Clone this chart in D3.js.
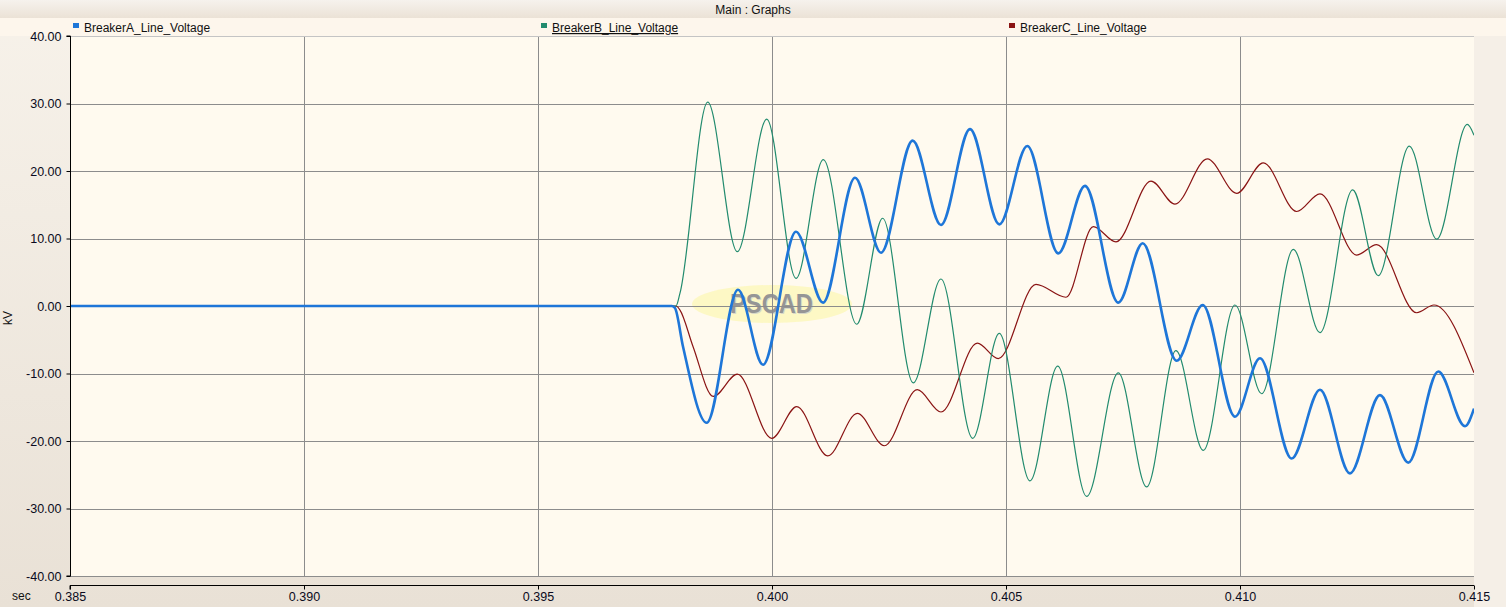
<!DOCTYPE html>
<html>
<head>
<meta charset="utf-8">
<script src="https://cdn.jsdelivr.net/npm/d3@7"></script>
<style>
  html, body { margin: 0; padding: 0; background: #ece5db; }
  svg { display: block; }
  text { font-family: "Liberation Sans", Arial, sans-serif; }
</style>
</head>
<body>
<svg id="chart" width="1506" height="607"></svg>
<script>
// ---------------- data ----------------
const title = "Main : Graphs";
const seriesNames = ["BreakerA_Line_Voltage", "BreakerB_Line_Voltage", "BreakerC_Line_Voltage"];
const xTicks = [0.385, 0.390, 0.395, 0.400, 0.405, 0.410, 0.415];
const yTicks = [-40, -30, -20, -10, 0, 10, 20, 30, 40];
const xUnit = "sec";
const yUnit = "kV";

// Breaker A (time s, voltage kV)
const timeA = [0.38500, 0.397863, 0.397927, 0.398098, 0.398605, 0.399274, 0.399808, 0.400513, 0.401090,
  0.401774, 0.402329, 0.403006, 0.403611, 0.404231, 0.404857, 0.405455, 0.406118, 0.406688, 0.407400,
  0.407921, 0.408647, 0.409203, 0.409893, 0.410427, 0.411104, 0.411709, 0.412350, 0.412991, 0.413596,
  0.414237, 0.414808, 0.41500];
const voltA = [0, 0, -0.3, -6.0, -17.3, 2.4, -8.7, 11.0, 0.5,
  19.0, 7.9, 24.5, 12.0, 26.2, 12.1, 23.7, 7.8, 17.8, 0.5,
  9.3, -8.1, 0.15, -16.4, -7.75, -22.6, -12.4, -24.8, -13.2, -23.2,
  -9.7, -17.8, -15.2];

// Breaker B
const timeB = [0.38500, 0.397949, 0.398034, 0.398626, 0.399259, 0.399887, 0.400513, 0.401096, 0.401810,
  0.402365, 0.403019, 0.403611, 0.404288, 0.404857, 0.405513, 0.406105, 0.406724, 0.407400, 0.408006,
  0.408632, 0.409216, 0.409893, 0.410464, 0.411139, 0.411709, 0.412408, 0.412955, 0.413618, 0.414203,
  0.414857, 0.41500];
const voltB = [0, 0, 1.9, 30.2, 8.05, 27.7, 4.1, 21.7, -2.7,
  13.0, -11.4, 4.0, -19.6, -4.05, -25.9, -8.9, -28.2, -9.9, -26.8,
  -6.6, -21.4, 0.15, -13.0, 8.4, -3.95, 17.2, 4.5, 23.7, 9.9,
  26.9, 25.3];

// Breaker C
const timeC = [0.38500, 0.397949, 0.398034, 0.398312, 0.398746, 0.399259, 0.399994, 0.400528, 0.401190,
  0.401823, 0.402400, 0.403105, 0.403611, 0.404387, 0.404835, 0.405641, 0.406282, 0.406865, 0.407350,
  0.408098, 0.408611, 0.409301, 0.409929, 0.410498, 0.411212, 0.411709, 0.412494, 0.412921, 0.413776,
  0.414145, 0.41500];
const voltC = [0, 0, -0.6, -6.0, -13.4, -10.1, -19.6, -14.9, -22.2,
  -15.9, -20.7, -12.4, -15.7, -5.5, -7.8, 3.2, 1.3, 11.75, 9.5,
  18.5, 15.1, 21.8, 16.7, 21.2, 14.0, 16.6, 7.55, 9.1, -1.0,
  0.15, -9.9];

// ---------------- drawing ----------------
const W = 1506, H = 607;
const plot = { left: 70, right: 1474, top: 36, bottom: 576 };
const svg = d3.select("#chart");

const x = d3.scaleLinear().domain([0.385, 0.415]).range([plot.left, plot.right]);
const y = d3.scaleLinear().domain([-40, 40]).range([plot.bottom, plot.top]);

const defs = svg.append("defs");
const gBg = defs.append("linearGradient").attr("id", "bgGrad").attr("x1", 0).attr("y1", 0).attr("x2", 0).attr("y2", 1);
gBg.append("stop").attr("offset", "0%").attr("stop-color", "#f7f2ea");
gBg.append("stop").attr("offset", "100%").attr("stop-color", "#e9e1d6");
const gTitle = defs.append("linearGradient").attr("id", "titleGrad").attr("x1", 0).attr("y1", 0).attr("x2", 0).attr("y2", 1);
gTitle.append("stop").attr("offset", "0%").attr("stop-color", "#f6f2ed");
gTitle.append("stop").attr("offset", "100%").attr("stop-color", "#ebe2d6");
defs.append("clipPath").attr("id", "plotClip").append("rect")
  .attr("x", plot.left).attr("y", plot.top).attr("width", plot.right - plot.left).attr("height", plot.bottom - plot.top);

// backgrounds
svg.append("rect").attr("x", 0).attr("y", 0).attr("width", W).attr("height", H).attr("fill", "url(#bgGrad)");
svg.append("rect").attr("x", plot.right).attr("y", 18).attr("width", W - plot.right).attr("height", H - 18).attr("fill", "#f5efe7");
svg.append("rect").attr("x", 0).attr("y", 0).attr("width", W).attr("height", 18).attr("fill", "url(#titleGrad)");
svg.append("rect").attr("x", 0).attr("y", 18).attr("width", W).attr("height", 18).attr("fill", "#fdf6ec");
svg.append("rect").attr("x", plot.left).attr("y", plot.top).attr("width", plot.right - plot.left)
  .attr("height", plot.bottom - plot.top).attr("fill", "#fffaef");

// title
svg.append("text").attr("x", 753).attr("y", 14).attr("text-anchor", "middle")
  .attr("font-size", 12).attr("fill", "#111").text(title);

// legend
const colors = ["#1e76d8", "#228b6e", "#8a1414"];
const legendX = [73, 541, 1009];
seriesNames.forEach((name, i) => {
  svg.append("rect").attr("x", legendX[i]).attr("y", 23).attr("width", 6).attr("height", 5).attr("fill", colors[i]);
  const t = svg.append("text").attr("x", legendX[i] + 11).attr("y", 32)
    .attr("font-size", 12).attr("fill", "#111").text(name);
  if (i === 1) t.attr("text-decoration", "underline");
});

// watermark
const wm = svg.append("g").attr("clip-path", "url(#plotClip)");
wm.append("ellipse").attr("cx", 772).attr("cy", 304).attr("rx", 80).attr("ry", 19)
  .attr("fill", "#fbf7a8").attr("opacity", 0.6);
wm.append("text").attr("x", 731).attr("y", 314).attr("font-size", 27).attr("font-weight", "bold")
  .attr("textLength", 83).attr("lengthAdjust", "spacingAndGlyphs")
  .attr("fill", "#d8d8c8").text("PSCAD");
wm.append("text").attr("x", 730).attr("y", 313).attr("font-size", 27).attr("font-weight", "bold")
  .attr("textLength", 83).attr("lengthAdjust", "spacingAndGlyphs")
  .attr("fill", "#959595").text("PSCAD");

// grid
const grid = svg.append("g").attr("stroke", "#8c8c8c").attr("stroke-width", 1).attr("shape-rendering", "crispEdges");
grid.selectAll("line.h").data(yTicks.filter(v => v !== 40)).enter().append("line")
  .attr("x1", plot.left).attr("x2", plot.right).attr("y1", d => Math.round(y(d)) + 0.5).attr("y2", d => Math.round(y(d)) + 0.5);
grid.selectAll("line.v").data(xTicks.slice(1, -1)).enter().append("line")
  .attr("y1", plot.top).attr("y2", plot.bottom).attr("x1", d => Math.round(x(d)) + 0.5).attr("x2", d => Math.round(x(d)) + 0.5);
svg.append("line").attr("x1", plot.left).attr("x2", plot.right).attr("y1", plot.top + 0.5).attr("y2", plot.top + 0.5)
  .attr("stroke", "#c4c4c4").attr("shape-rendering", "crispEdges");

// series
const line = d3.line().x(d => x(d[0])).y(d => y(d[1])).curve(d3.curveMonotoneX);
const lines = svg.append("g").attr("clip-path", "url(#plotClip)").attr("fill", "none");
const zip = (t, v) => t.map((tt, i) => [tt, v[i]]);
lines.append("path").attr("d", line(zip(timeC, voltC))).attr("stroke", colors[2]).attr("stroke-width", 1.2);
lines.append("path").attr("d", line(zip(timeB, voltB))).attr("stroke", colors[1]).attr("stroke-width", 1.2);
lines.append("path").attr("d", line(zip(timeA, voltA))).attr("stroke", colors[0]).attr("stroke-width", 2.6);

// y axis
const fmtY = v => d3.format(".2f")(v).replace("\u2212", "-");
const yAxis = d3.axisLeft(y).tickValues(yTicks).tickSize(4).tickPadding(5).tickFormat(fmtY);
const gy = svg.append("g").attr("transform", `translate(${plot.left + 0.5},0)`).call(yAxis);
gy.select(".domain").attr("stroke", "#000").attr("d", `M-4,${plot.top}H0V${plot.bottom}H-4`);
gy.selectAll(".tick line").attr("stroke", "#000");
gy.selectAll(".tick text").attr("font-size", 12.5).attr("fill", "#0a0a20")
  .attr("font-family", "Liberation Sans, Arial, sans-serif");

// x axis
const xAxisY = 585;
const xAxis = d3.axisBottom(x).tickValues(xTicks).tickSize(4).tickPadding(3).tickFormat(d3.format(".3f"));
const gx = svg.append("g").attr("transform", `translate(0,${xAxisY + 0.5})`).call(xAxis);
gx.select(".domain").attr("stroke", "#000").attr("d", `M${plot.left},4V0H${plot.right}`);
gx.selectAll(".tick line").attr("stroke", "#000");
gx.selectAll(".tick text").attr("font-size", 12.5).attr("fill", "#0a0a20")
  .attr("font-family", "Liberation Sans, Arial, sans-serif");

// unit labels
svg.append("text").attr("x", 12).attr("y", 600).attr("font-size", 12).attr("fill", "#111").text(xUnit);
svg.append("text").attr("transform", "translate(12,318) rotate(-90)").attr("text-anchor", "middle")
  .attr("font-size", 12).attr("fill", "#111").text(yUnit);
</script>
</body>
</html>
